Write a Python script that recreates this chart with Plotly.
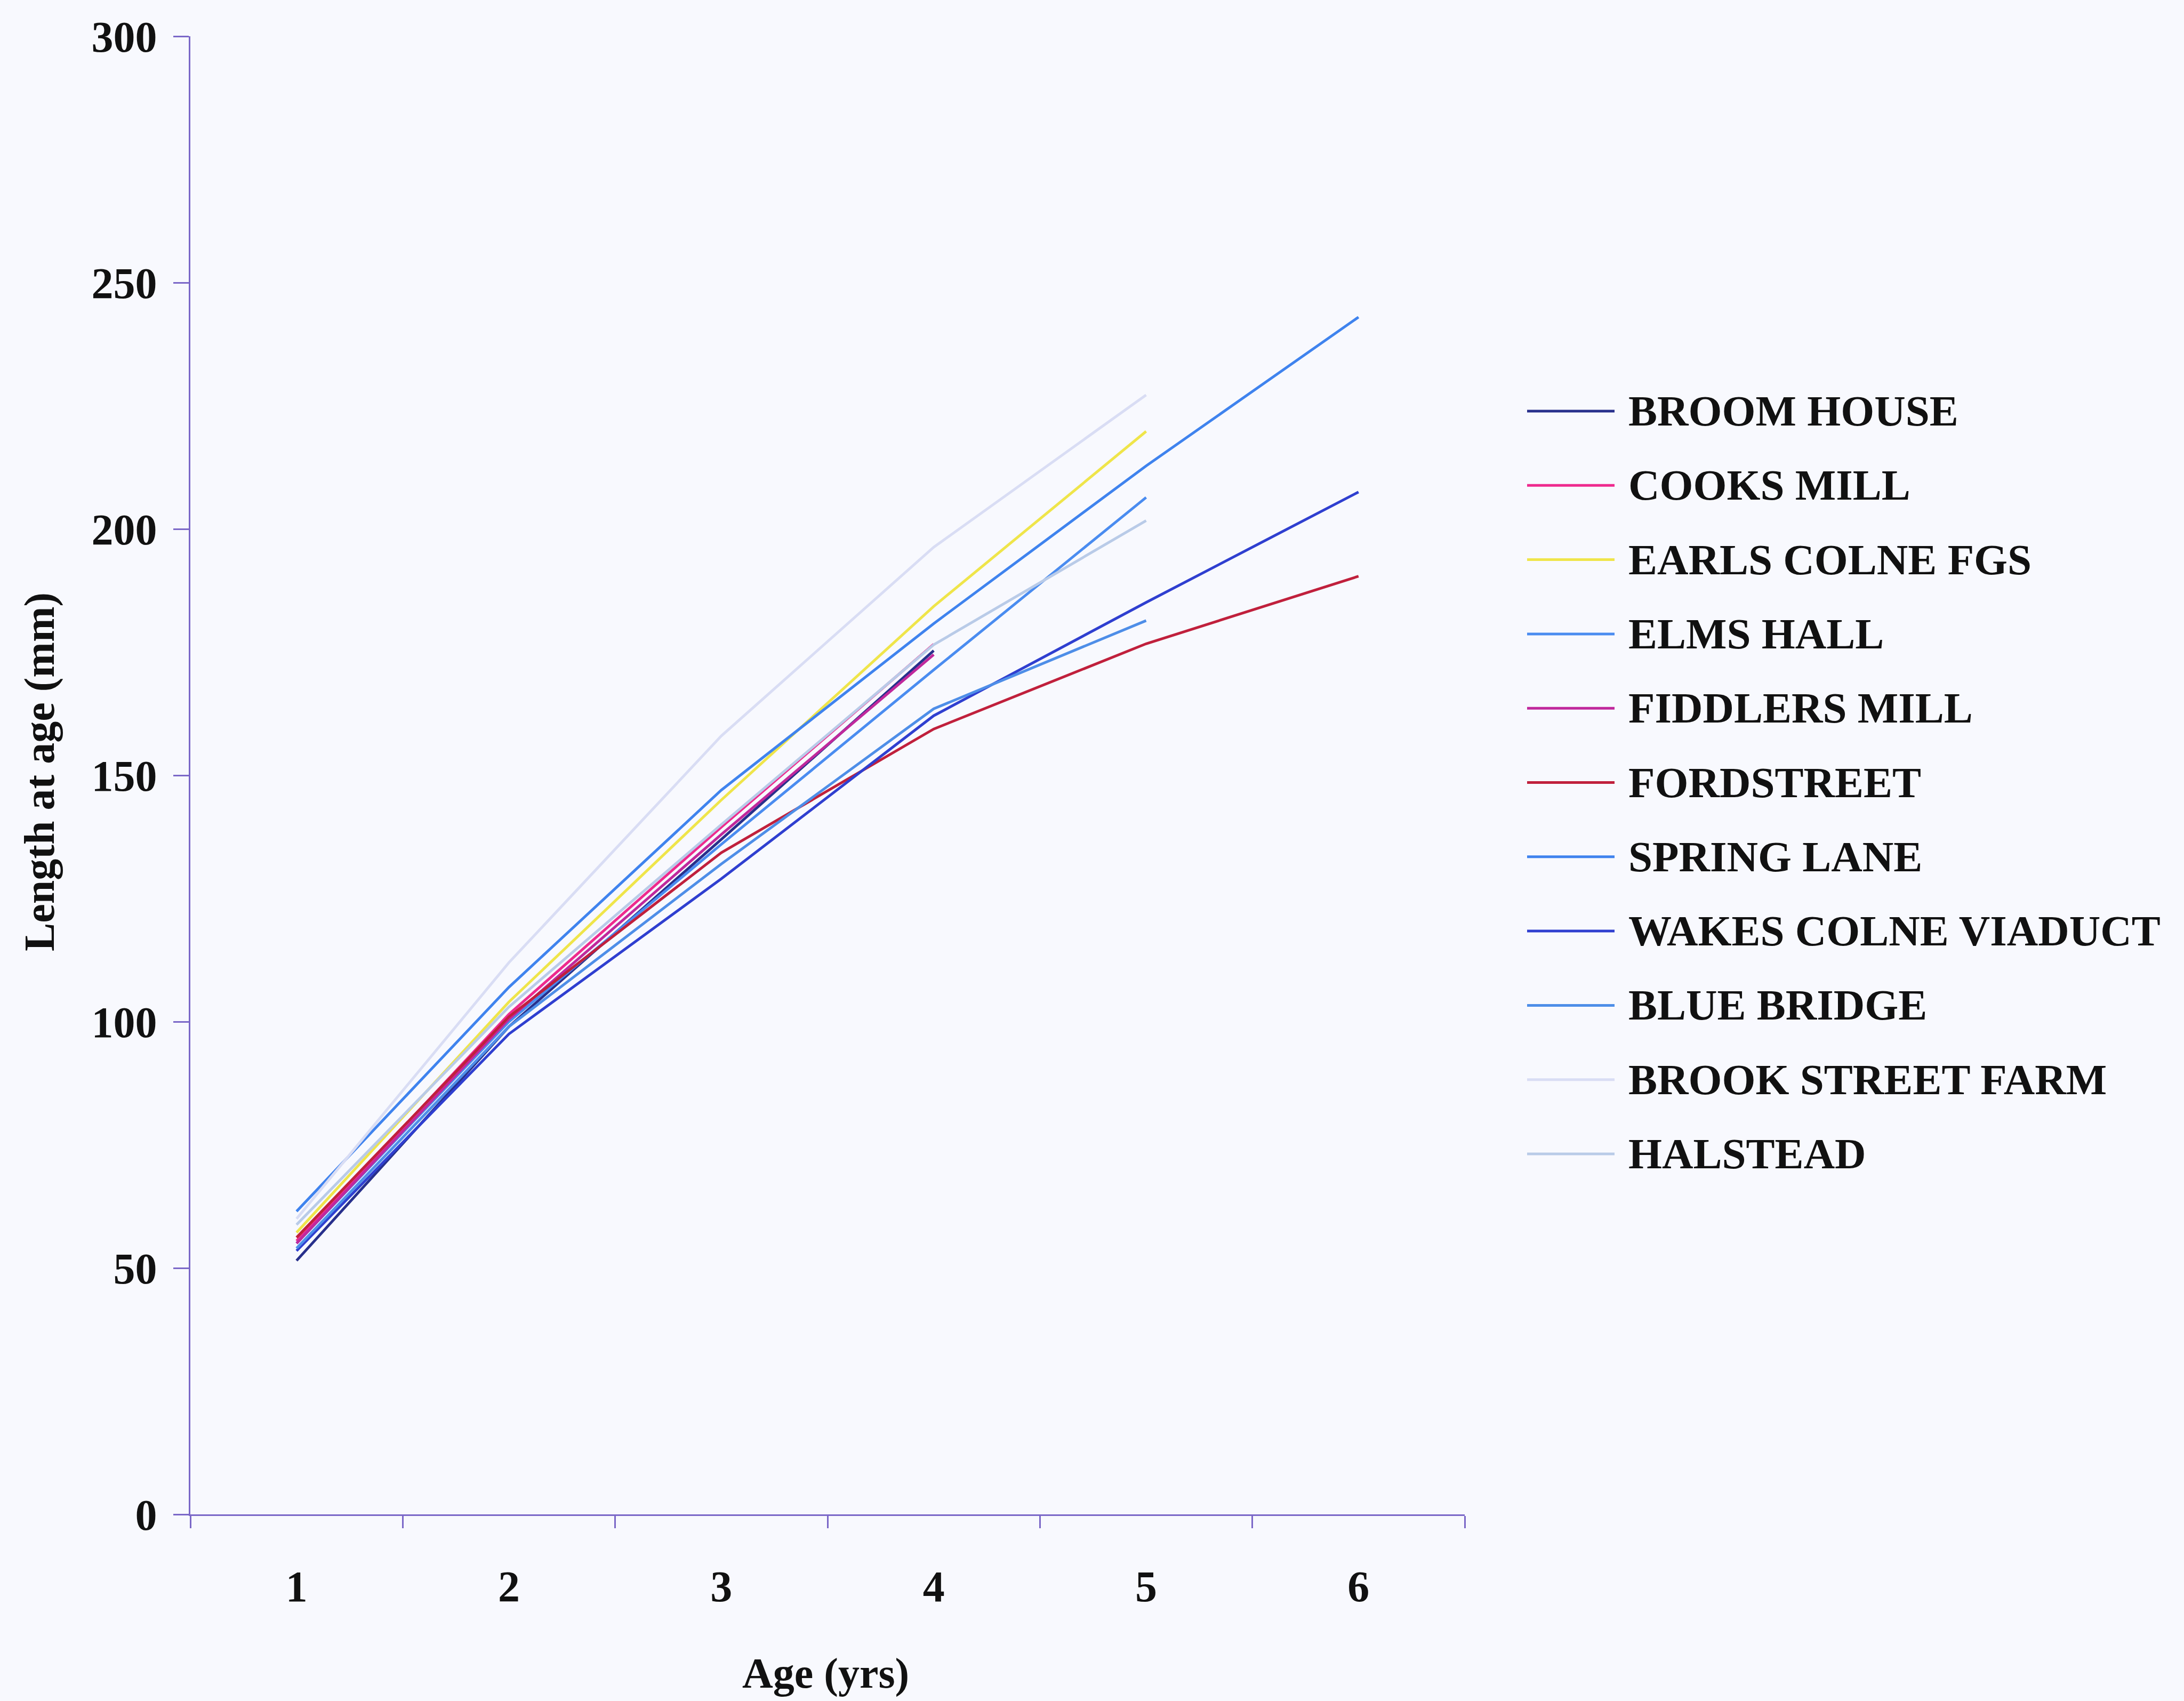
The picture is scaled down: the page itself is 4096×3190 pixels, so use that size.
import plotly.graph_objects as go

# Mean length at age (mm) for chub at each site
ages = ["1", "2", "3", "4", "5", "6"]

broom_house = [51.5, 99.0, 137.0, 175.3]
cooks_mill = [55.5, 101.5, 139.5, 176.6]
earls_colne_fgs = [57.2, 104.0, 145.0, 184.3, 219.8]
elms_hall = [55.0, 100.0, 136.0, 171.4, 206.4]
fiddlers_mill = [55.0, 100.5, 138.0, 174.5]
fordstreet = [56.2, 101.0, 134.3, 159.4, 176.7, 190.4]
spring_lane = [61.5, 107.0, 147.0, 180.8, 212.8, 243.0]
wakes_colne_viaduct = [53.5, 97.5, 129.0, 162.1, 185.1, 207.5]
blue_bridge = [54.0, 99.0, 132.0, 163.5, 181.4]
brook_street_farm = [60.0, 112.0, 158.0, 196.3, 227.2]
halstead = [58.8, 103.0, 140.0, 176.5, 201.7]

site_names = [
    "BROOM HOUSE", "COOKS MILL", "EARLS COLNE FGS", "ELMS HALL",
    "FIDDLERS MILL", "FORDSTREET", "SPRING LANE", "WAKES COLNE VIADUCT",
    "BLUE BRIDGE", "BROOK STREET FARM", "HALSTEAD",
]
site_values = [
    broom_house, cooks_mill, earls_colne_fgs, elms_hall, fiddlers_mill,
    fordstreet, spring_lane, wakes_colne_viaduct, blue_bridge,
    brook_street_farm, halstead,
]
site_colors = [
    "#28308c", "#ee2a8e", "#efe54a", "#4a8cf0", "#c0289c", "#c0203c",
    "#3f83ee", "#2f3fd0", "#4e8ee8", "#d9ddf4", "#b9cbe8",
]

y_ticks = [0, 50, 100, 150, 200, 250, 300]

W, H = 4096, 3190
L, R, T, B = 357, 2747, 68, 2840
FONT = "Liberation Serif"
AXIS_COLOR = "#7b68c8"
BG = "#f8f9fe"


def px_x(px):
    return (px - L) / (R - L)


def px_y(py):
    return (B - py) / (B - T)


fig = go.Figure()
for name, vals, color in zip(site_names, site_values, site_colors):
    fig.add_trace(go.Scatter(
        x=ages[:len(vals)], y=vals, mode="lines", name=name,
        line=dict(color=color, width=5), showlegend=False,
    ))

# Legend drawn beside the plot: a line sample and a label per site
row0, row_step = 771, 139.3
for i, (name, color) in enumerate(zip(site_names, site_colors)):
    yy = px_y(row0 + i * row_step)
    fig.add_shape(type="line", xref="paper", yref="paper",
                  x0=px_x(2864), x1=px_x(3028), y0=yy, y1=yy,
                  line=dict(color=color, width=5))
    fig.add_annotation(xref="paper", yref="paper", x=px_x(3052), y=yy,
                       text=name, showarrow=False, xanchor="left",
                       yanchor="middle",
                       font=dict(family=FONT, size=81, color="#111111",
                                 weight="bold"))

# Axis titles
fig.add_annotation(xref="paper", yref="paper", x=px_x(74), y=px_y(1448),
                   text="Length at age (mm)", textangle=-90, showarrow=False,
                   xanchor="center", yanchor="middle",
                   font=dict(family=FONT, size=80, color="#111111",
                             weight="bold"))
fig.add_annotation(xref="paper", yref="paper", x=px_x(1548), y=px_y(3138),
                   text="Age (yrs)", showarrow=False,
                   xanchor="center", yanchor="middle",
                   font=dict(family=FONT, size=80, color="#111111",
                             weight="bold"))

fig.update_layout(
    width=W, height=H,
    margin=dict(l=L, r=W - R, t=T, b=H - B, pad=0),
    paper_bgcolor=BG, plot_bgcolor=BG,
    font=dict(family=FONT, size=80, color="#111111", weight="bold"),
    xaxis=dict(
        type="category", categoryorder="array", categoryarray=ages,
        range=[-0.5, 5.5], tickson="boundaries",
        showline=True, linecolor=AXIS_COLOR, linewidth=3,
        ticks="outside", ticklen=23, tickwidth=3, tickcolor=AXIS_COLOR,
        showgrid=False, zeroline=False, ticklabelstandoff=62,
        tickfont=dict(family=FONT, size=82, color="#111111", weight="bold"),
    ),
    yaxis=dict(
        range=[0, 300], tickvals=y_ticks,
        showline=True, linecolor=AXIS_COLOR, linewidth=3,
        ticks="outside", ticklen=29, tickwidth=3, tickcolor=AXIS_COLOR,
        showgrid=False, zeroline=False, ticklabelstandoff=14,
        tickfont=dict(family=FONT, size=82, color="#111111", weight="bold"),
    ),
)

fig.write_html("out.html")
